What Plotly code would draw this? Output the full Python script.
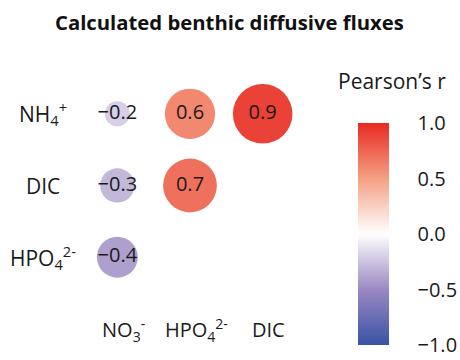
import math
import plotly.graph_objects as go

# ---- data ----
row_labels = ["NH<sub>4</sub><sup>+</sup>", "DIC", "HPO<sub>4</sub><sup>2-</sup>"]
col_labels = ["NO<sub>3</sub><sup>-</sup>", "HPO<sub>4</sub><sup>2-</sup>", "DIC"]
row_keys = ["NH4", "DIC", "HPO4"]
col_keys = ["NO3", "HPO4", "DIC"]
r_nh4 = [-0.2, 0.6, 0.9]
r_dic = [-0.3, 0.7, None]
r_hpo4 = [-0.4, None, None]
cbar_ticks = [-1.0, -0.5, 0.0, 0.5, 1.0]
title_text = "Calculated benthic diffusive fluxes"
cbar_title = "Pearson’s r"

matrix = [r_nh4, r_dic, r_hpo4]

xs, ys, vals = [], [], []
for rk, row in zip(row_keys, matrix):
    for ck, v in zip(col_keys, row):
        if v is not None:
            xs.append(ck)
            ys.append(rk)
            vals.append(v)

sizes = [62 + 23 * math.log(abs(v)) for v in vals]
texts = [f"{v:.1f}".replace("-", "\u2212") for v in vals]

colorscale = [
    [0.0, "#3953a4"],
    [0.25, "#9a88c2"],
    [0.5, "#ffffff"],
    [0.75, "#f4a084"],
    [1.0, "#e82a22"],
]

FONT = "Open Sans"
TXT = "#1a1a1a"

fig = go.Figure()
fig.add_trace(go.Scatter(
    x=xs, y=ys, mode="markers+text",
    text=texts, textposition="middle center",
    textfont=dict(family=FONT, size=20, color=TXT),
    marker=dict(
        size=sizes, sizemode="diameter", color=vals,
        colorscale=colorscale, cmin=-1, cmax=1,
        line=dict(width=0), opacity=1,
        colorbar=dict(
            thickness=31, lenmode="pixels", len=222,
            x=1.272, xanchor="left", y=0.274, yanchor="middle",
            xpad=0, ypad=0,
            outlinewidth=0, tickvals=cbar_ticks, tickformat=".1f",
            ticklabeloverflow="allow",
            ticks="outside", ticklen=25, tickcolor="rgba(0,0,0,0)",
            tickfont=dict(family=FONT, size=20, color=TXT),
        ),
    ),
    hoverinfo="skip", showlegend=False, cliponaxis=False,
))

annotations = []
for rk, lab in zip(row_keys, row_labels):
    annotations.append(dict(
        text=lab, x=-0.176, xref="paper", xanchor="center",
        y=rk, yref="y", yanchor="middle", showarrow=False,
        font=dict(family=FONT, size=21, color=TXT),
    ))
for ck, lab in zip(col_keys, col_labels):
    annotations.append(dict(
        text=lab, x=ck, xref="x", xanchor="center", xshift=6,
        y=-0.172, yref="paper", yanchor="middle", showarrow=False,
        font=dict(family=FONT, size=20, color=TXT),
    ))
annotations.append(dict(
    text=f"<b>{title_text}</b>", x=0.68, xref="paper", xanchor="center",
    y=1.26, yref="paper", yanchor="middle", showarrow=False,
    font=dict(family=FONT, size=20.3, color="#111111"),
))
annotations.append(dict(
    text=cbar_title, x=1.427, xref="paper", xanchor="center",
    y=0.985, yref="paper", yanchor="middle", showarrow=False,
    font=dict(family=FONT, size=21, color=TXT),
))

fig.update_layout(
    width=460, height=360,
    margin=dict(l=80.5, r=160.5, t=78, b=67, autoexpand=False),
    paper_bgcolor="white", plot_bgcolor="white",
    xaxis=dict(type="category", categoryorder="array", categoryarray=col_keys,
               range=[-0.5, 2.5], showgrid=False, zeroline=False,
               showticklabels=False, ticks="", showline=False, fixedrange=True),
    yaxis=dict(type="category", categoryorder="array", categoryarray=row_keys,
               range=[2.5, -0.5], showgrid=False, zeroline=False,
               showticklabels=False, ticks="", showline=False, fixedrange=True),
    annotations=annotations,
)

fig.write_html("out.html")
